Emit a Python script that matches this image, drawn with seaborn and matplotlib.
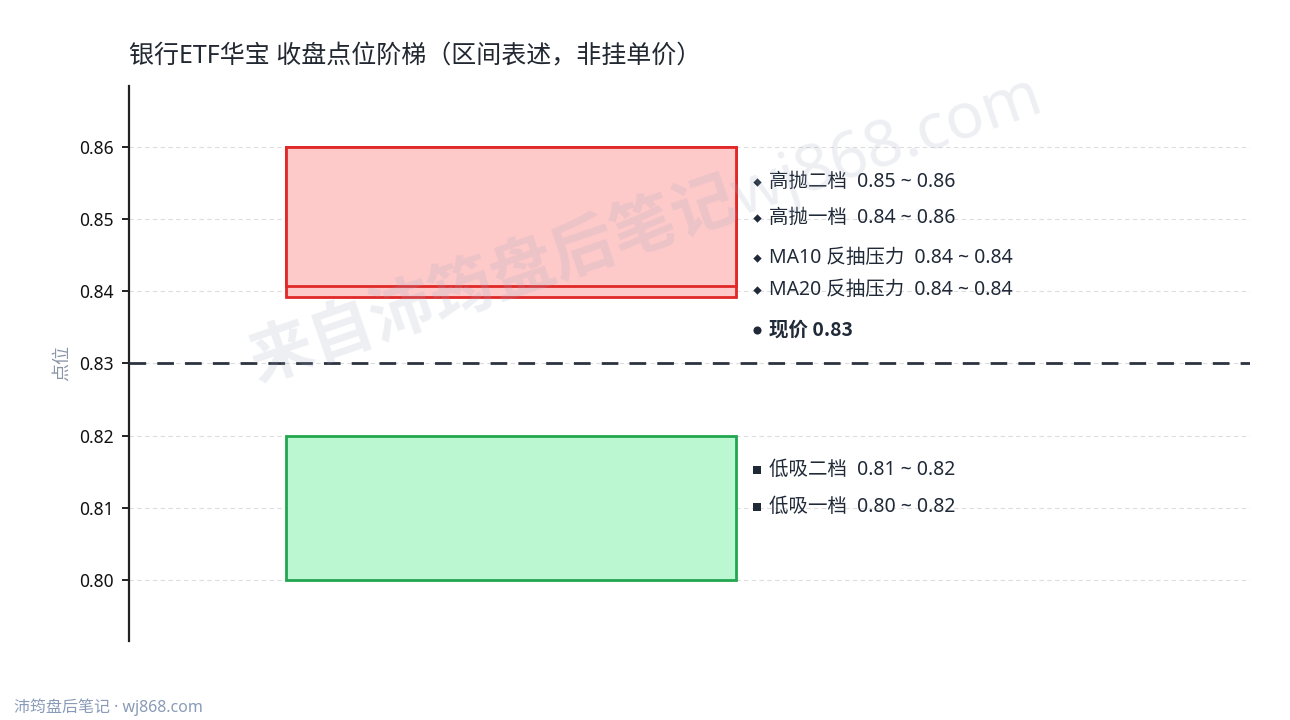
import matplotlib
matplotlib.use("Agg")
import matplotlib.pyplot as plt
import seaborn as sns

# 区间数据
high_lo = [0.8392, 0.8407]
high_hi = [0.8600, 0.8600]
low_lo = [0.8000]
low_hi = [0.8200]
current = 0.83

labels = ["高抛二档  0.85 ~ 0.86", "高抛一档  0.84 ~ 0.86", "MA10 反抽压力  0.84 ~ 0.84",
          "MA20 反抽压力  0.84 ~ 0.84", "现价 0.83", "低吸二档  0.81 ~ 0.82", "低吸一档  0.80 ~ 0.82"]
label_y = [0.8552, 0.8502, 0.8446, 0.8402, 0.8347, 0.8152, 0.8101]
label_kind = ["high", "high", "ma", "ma", "now", "low", "low"]

yticks = [0.80, 0.81, 0.82, 0.83, 0.84, 0.85, 0.86]

sns.set_theme(style="white")
plt.rcParams['font.family'] = ['Noto Sans', 'Noto Sans CJK SC', 'DejaVu Sans']
plt.rcParams['axes.unicode_minus'] = False

fig = plt.figure(figsize=(12.9, 7.2), dpi=100)
ax = fig.add_axes([0.1, 0.1097, 0.869, 0.7709])

# 区间色块
x0, x1 = 0.14, 0.5415
for lo, hi in zip(high_lo, high_hi):
    ax.bar((x0 + x1) / 2, hi - lo, bottom=lo, width=x1 - x0,
           color="#fdc9c9", edgecolor="#e02828", linewidth=2, zorder=2)
for lo, hi in zip(low_lo, low_hi):
    ax.bar((x0 + x1) / 2, hi - lo, bottom=lo, width=x1 - x0,
           color="#bbf7d0", edgecolor="#22a650", linewidth=2, zorder=2)

# 现价虚线
ax.axhline(current, color="#2d3340", linewidth=2, linestyle=(0, (6, 4)), zorder=3)

# 右侧标注
mk = {"high": "D", "ma": "D", "now": "o", "low": "s"}
ms = {"high": 18, "ma": 18, "now": 34, "low": 30}
for txt, y, k in zip(labels, label_y, label_kind):
    ax.scatter([0.5605], [y], marker=mk[k], s=ms[k], color="#1f2937", zorder=4, linewidths=0)
    if k == "now":
        ax.text(0.5705, y, txt, va="center", ha="left", fontsize=14, color="#1f2937",
                fontweight="bold", family=['Noto Sans CJK SC', 'DejaVu Sans'], zorder=4)
    else:
        ax.text(0.5705, y, txt, va="center", ha="left", fontsize=14, color="#1f2937", zorder=4)

ax.set_xlim(0, 1)
ax.set_ylim(0.7915, 0.8685)
ax.set_yticks(yticks)
ax.set_yticklabels([f"{v:.2f}" for v in yticks], fontsize=12.5, color="#111111")
ax.set_xticks([])
ax.grid(axis="y", color="#dddddd", linestyle=(0, (4, 3)), linewidth=0.8)
ax.set_axisbelow(True)
for s in ["top", "right", "bottom"]:
    ax.spines[s].set_visible(False)
ax.spines["left"].set_color("#222222")
ax.spines["left"].set_linewidth(1.6)
ax.tick_params(axis="y", length=5, width=1.4, color="#222222", left=True, pad=6)

ax.set_ylabel("点位", fontsize=13, color="#8a94a6", labelpad=6)

fig.text(0.1, 0.921, "银行ETF华宝 收盘点位阶梯（区间表述，非挂单价）", fontsize=18,
         color="#222831", ha="left", va="center")

# 水印
fig.text(0.5, 0.685, "来自沛筠盘后笔记wj868.com", fontsize=46, fontweight="bold",
         color="#a0a8c0", alpha=0.18, rotation=19, ha="center", va="center", zorder=10)

fig.text(0.011, 0.018, "沛筠盘后笔记 · wj868.com", fontsize=11.5, color="#8a9bb8",
         ha="left", va="center")

fig.savefig("out.png", dpi=100)
